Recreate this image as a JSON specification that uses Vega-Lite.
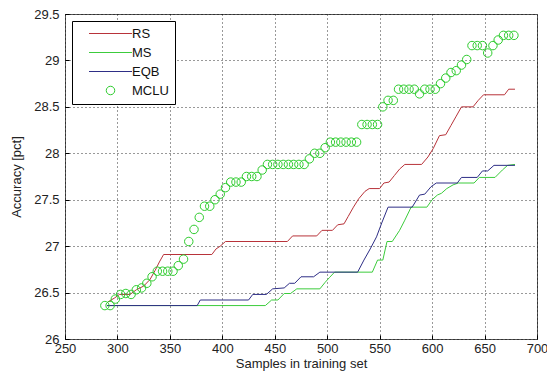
{
  "$schema": "https://vega.github.io/schema/vega-lite/v6.json",
  "width": 472,
  "height": 325,
  "autosize": {"type": "none"},
  "padding": {"left": 65, "top": 14, "right": 10, "bottom": 37},
  "background": "white",
  "config": {
    "font": "Liberation Sans",
    "view": {"stroke": "#555555", "strokeWidth": 1},
    "axis": {
      "domain": false,
      "grid": true,
      "gridColor": "#000000",
      "gridDash": [1, 3],
      "gridOpacity": 0.8,
      "gridWidth": 1,
      "ticks": true,
      "tickSize": -4,
      "tickColor": "#000000",
      "labelFont": "Liberation Sans",
      "labelFontSize": 13,
      "labelColor": "#222222",
      "titleFont": "Liberation Sans",
      "titleFontSize": 13,
      "titleFontWeight": "normal",
      "titleColor": "#222222"
    },
    "legend": {
      "labelFont": "Liberation Sans",
      "labelFontSize": 13,
      "labelColor": "#111111"
    }
  },
  "data": {
    "values": [
      {"s": "RS", "x": 291, "y": 26.4},
      {"s": "RS", "x": 297, "y": 26.44},
      {"s": "RS", "x": 302, "y": 26.48},
      {"s": "RS", "x": 312, "y": 26.48},
      {"s": "RS", "x": 318, "y": 26.53},
      {"s": "RS", "x": 325, "y": 26.57},
      {"s": "RS", "x": 331, "y": 26.64},
      {"s": "RS", "x": 336, "y": 26.74},
      {"s": "RS", "x": 340, "y": 26.83},
      {"s": "RS", "x": 344, "y": 26.91},
      {"s": "RS", "x": 390, "y": 26.91},
      {"s": "RS", "x": 394, "y": 26.97},
      {"s": "RS", "x": 398, "y": 27.0},
      {"s": "RS", "x": 403, "y": 27.05},
      {"s": "RS", "x": 462, "y": 27.05},
      {"s": "RS", "x": 467, "y": 27.11},
      {"s": "RS", "x": 490, "y": 27.11},
      {"s": "RS", "x": 495, "y": 27.17},
      {"s": "RS", "x": 505, "y": 27.17},
      {"s": "RS", "x": 510, "y": 27.23},
      {"s": "RS", "x": 516, "y": 27.24},
      {"s": "RS", "x": 520, "y": 27.32},
      {"s": "RS", "x": 525, "y": 27.42},
      {"s": "RS", "x": 530, "y": 27.51},
      {"s": "RS", "x": 536, "y": 27.59},
      {"s": "RS", "x": 540, "y": 27.62},
      {"s": "RS", "x": 550, "y": 27.62},
      {"s": "RS", "x": 554, "y": 27.68},
      {"s": "RS", "x": 559, "y": 27.69},
      {"s": "RS", "x": 564, "y": 27.76},
      {"s": "RS", "x": 569, "y": 27.83},
      {"s": "RS", "x": 574, "y": 27.88},
      {"s": "RS", "x": 590, "y": 27.88},
      {"s": "RS", "x": 596, "y": 27.96},
      {"s": "RS", "x": 601, "y": 28.05},
      {"s": "RS", "x": 607, "y": 28.19},
      {"s": "RS", "x": 613, "y": 28.2},
      {"s": "RS", "x": 618, "y": 28.3},
      {"s": "RS", "x": 623, "y": 28.4},
      {"s": "RS", "x": 628, "y": 28.5},
      {"s": "RS", "x": 639, "y": 28.5},
      {"s": "RS", "x": 644, "y": 28.57},
      {"s": "RS", "x": 649, "y": 28.63},
      {"s": "RS", "x": 669, "y": 28.63},
      {"s": "RS", "x": 673, "y": 28.69},
      {"s": "RS", "x": 679, "y": 28.69},

      {"s": "MS", "x": 290, "y": 26.36},
      {"s": "MS", "x": 441, "y": 26.36},
      {"s": "MS", "x": 447, "y": 26.42},
      {"s": "MS", "x": 453, "y": 26.42},
      {"s": "MS", "x": 459, "y": 26.49},
      {"s": "MS", "x": 465, "y": 26.49},
      {"s": "MS", "x": 471, "y": 26.54},
      {"s": "MS", "x": 493, "y": 26.54},
      {"s": "MS", "x": 498, "y": 26.61},
      {"s": "MS", "x": 502, "y": 26.66},
      {"s": "MS", "x": 507, "y": 26.72},
      {"s": "MS", "x": 543, "y": 26.72},
      {"s": "MS", "x": 548, "y": 26.85},
      {"s": "MS", "x": 553, "y": 26.85},
      {"s": "MS", "x": 557, "y": 27.05},
      {"s": "MS", "x": 562, "y": 27.05},
      {"s": "MS", "x": 569, "y": 27.17},
      {"s": "MS", "x": 574, "y": 27.28},
      {"s": "MS", "x": 580, "y": 27.42},
      {"s": "MS", "x": 595, "y": 27.42},
      {"s": "MS", "x": 600, "y": 27.5},
      {"s": "MS", "x": 605, "y": 27.55},
      {"s": "MS", "x": 609, "y": 27.57},
      {"s": "MS", "x": 614, "y": 27.62},
      {"s": "MS", "x": 620, "y": 27.66},
      {"s": "MS", "x": 625, "y": 27.68},
      {"s": "MS", "x": 640, "y": 27.68},
      {"s": "MS", "x": 645, "y": 27.74},
      {"s": "MS", "x": 660, "y": 27.74},
      {"s": "MS", "x": 667, "y": 27.82},
      {"s": "MS", "x": 672, "y": 27.87},
      {"s": "MS", "x": 679, "y": 27.88},

      {"s": "EQB", "x": 290, "y": 26.36},
      {"s": "EQB", "x": 376, "y": 26.36},
      {"s": "EQB", "x": 379, "y": 26.42},
      {"s": "EQB", "x": 425, "y": 26.42},
      {"s": "EQB", "x": 429, "y": 26.48},
      {"s": "EQB", "x": 442, "y": 26.48},
      {"s": "EQB", "x": 448, "y": 26.54},
      {"s": "EQB", "x": 459, "y": 26.55},
      {"s": "EQB", "x": 464, "y": 26.6},
      {"s": "EQB", "x": 469, "y": 26.6},
      {"s": "EQB", "x": 475, "y": 26.67},
      {"s": "EQB", "x": 487, "y": 26.67},
      {"s": "EQB", "x": 493, "y": 26.72},
      {"s": "EQB", "x": 529, "y": 26.72},
      {"s": "EQB", "x": 535, "y": 26.85},
      {"s": "EQB", "x": 541, "y": 26.97},
      {"s": "EQB", "x": 547, "y": 27.1},
      {"s": "EQB", "x": 552, "y": 27.25},
      {"s": "EQB", "x": 558, "y": 27.42},
      {"s": "EQB", "x": 581, "y": 27.42},
      {"s": "EQB", "x": 588, "y": 27.55},
      {"s": "EQB", "x": 593, "y": 27.56},
      {"s": "EQB", "x": 599, "y": 27.64},
      {"s": "EQB", "x": 604, "y": 27.68},
      {"s": "EQB", "x": 624, "y": 27.68},
      {"s": "EQB", "x": 628, "y": 27.74},
      {"s": "EQB", "x": 643, "y": 27.74},
      {"s": "EQB", "x": 648, "y": 27.81},
      {"s": "EQB", "x": 653, "y": 27.81},
      {"s": "EQB", "x": 659, "y": 27.87},
      {"s": "EQB", "x": 679, "y": 27.87},

      {"s": "MCLU", "x": 288, "y": 26.36},
      {"s": "MCLU", "x": 293, "y": 26.36},
      {"s": "MCLU", "x": 298, "y": 26.43},
      {"s": "MCLU", "x": 303, "y": 26.48},
      {"s": "MCLU", "x": 308, "y": 26.49},
      {"s": "MCLU", "x": 313, "y": 26.48},
      {"s": "MCLU", "x": 318, "y": 26.53},
      {"s": "MCLU", "x": 323, "y": 26.55},
      {"s": "MCLU", "x": 328, "y": 26.6},
      {"s": "MCLU", "x": 333, "y": 26.67},
      {"s": "MCLU", "x": 338, "y": 26.73},
      {"s": "MCLU", "x": 343, "y": 26.73},
      {"s": "MCLU", "x": 348, "y": 26.73},
      {"s": "MCLU", "x": 353, "y": 26.73},
      {"s": "MCLU", "x": 358, "y": 26.79},
      {"s": "MCLU", "x": 363, "y": 26.86},
      {"s": "MCLU", "x": 368, "y": 27.05},
      {"s": "MCLU", "x": 373, "y": 27.18},
      {"s": "MCLU", "x": 378, "y": 27.31},
      {"s": "MCLU", "x": 383, "y": 27.43},
      {"s": "MCLU", "x": 388, "y": 27.43},
      {"s": "MCLU", "x": 393, "y": 27.5},
      {"s": "MCLU", "x": 398, "y": 27.56},
      {"s": "MCLU", "x": 403, "y": 27.63},
      {"s": "MCLU", "x": 408, "y": 27.69},
      {"s": "MCLU", "x": 413, "y": 27.69},
      {"s": "MCLU", "x": 418, "y": 27.69},
      {"s": "MCLU", "x": 423, "y": 27.75},
      {"s": "MCLU", "x": 428, "y": 27.75},
      {"s": "MCLU", "x": 433, "y": 27.75},
      {"s": "MCLU", "x": 438, "y": 27.82},
      {"s": "MCLU", "x": 443, "y": 27.88},
      {"s": "MCLU", "x": 448, "y": 27.88},
      {"s": "MCLU", "x": 453, "y": 27.88},
      {"s": "MCLU", "x": 458, "y": 27.88},
      {"s": "MCLU", "x": 463, "y": 27.88},
      {"s": "MCLU", "x": 468, "y": 27.88},
      {"s": "MCLU", "x": 473, "y": 27.88},
      {"s": "MCLU", "x": 478, "y": 27.88},
      {"s": "MCLU", "x": 483, "y": 27.94},
      {"s": "MCLU", "x": 488, "y": 28.0},
      {"s": "MCLU", "x": 493, "y": 28.0},
      {"s": "MCLU", "x": 498, "y": 28.06},
      {"s": "MCLU", "x": 503, "y": 28.12},
      {"s": "MCLU", "x": 508, "y": 28.12},
      {"s": "MCLU", "x": 513, "y": 28.12},
      {"s": "MCLU", "x": 518, "y": 28.12},
      {"s": "MCLU", "x": 523, "y": 28.12},
      {"s": "MCLU", "x": 528, "y": 28.12},
      {"s": "MCLU", "x": 533, "y": 28.31},
      {"s": "MCLU", "x": 538, "y": 28.31},
      {"s": "MCLU", "x": 543, "y": 28.31},
      {"s": "MCLU", "x": 548, "y": 28.31},
      {"s": "MCLU", "x": 553, "y": 28.5},
      {"s": "MCLU", "x": 558, "y": 28.57},
      {"s": "MCLU", "x": 563, "y": 28.57},
      {"s": "MCLU", "x": 568, "y": 28.69},
      {"s": "MCLU", "x": 573, "y": 28.69},
      {"s": "MCLU", "x": 578, "y": 28.69},
      {"s": "MCLU", "x": 583, "y": 28.69},
      {"s": "MCLU", "x": 588, "y": 28.64},
      {"s": "MCLU", "x": 593, "y": 28.69},
      {"s": "MCLU", "x": 598, "y": 28.69},
      {"s": "MCLU", "x": 603, "y": 28.69},
      {"s": "MCLU", "x": 608, "y": 28.75},
      {"s": "MCLU", "x": 613, "y": 28.81},
      {"s": "MCLU", "x": 618, "y": 28.87},
      {"s": "MCLU", "x": 623, "y": 28.89},
      {"s": "MCLU", "x": 628, "y": 28.95},
      {"s": "MCLU", "x": 633, "y": 29.01},
      {"s": "MCLU", "x": 638, "y": 29.16},
      {"s": "MCLU", "x": 643, "y": 29.16},
      {"s": "MCLU", "x": 648, "y": 29.16},
      {"s": "MCLU", "x": 653, "y": 29.08},
      {"s": "MCLU", "x": 658, "y": 29.16},
      {"s": "MCLU", "x": 663, "y": 29.22},
      {"s": "MCLU", "x": 668, "y": 29.27},
      {"s": "MCLU", "x": 673, "y": 29.27},
      {"s": "MCLU", "x": 678, "y": 29.27}
    ]
  },
  "encoding": {
    "x": {
      "field": "x",
      "type": "quantitative",
      "scale": {"domain": [250, 700], "nice": false, "zero": false},
      "axis": {
        "title": "Samples in training set",
        "values": [250, 300, 350, 400, 450, 500, 550, 600, 650, 700],
        "labelPadding": 7,
        "titlePadding": 2,
        "labelFlush": false,
        "labelOverlap": false
      }
    },
    "y": {
      "field": "y",
      "type": "quantitative",
      "scale": {"domain": [26, 29.5], "nice": false, "zero": false},
      "axis": {
        "title": "Accuracy [pct]",
        "values": [26, 26.5, 27, 27.5, 28, 28.5, 29, 29.5],
        "format": "~g",
        "labelPadding": 10,
        "titlePadding": 10,
        "labelFlush": false,
        "labelOverlap": false
      }
    },
    "color": {
      "field": "s",
      "type": "nominal",
      "sort": ["RS", "MS", "EQB", "MCLU"],
      "scale": {
        "domain": ["RS", "MS", "EQB", "MCLU"],
        "range": ["#b8333a", "#3ccc3c", "#2e2e86", "#2ecc2e"]
      },
      "legend": {
        "title": null,
        "orient": "top-left",
        "offset": 7,
        "fillColor": "white",
        "strokeColor": "#000000",
        "padding": 6,
        "symbolType": "stroke",
        "symbolSize": 100,
        "symbolStrokeWidth": 1,
        "symbolOffset": 26,
        "labelOffset": 15,
        "labelFontSize": 13,
        "rowPadding": 5,
        "encode": {
          "symbols": {
            "update": {
              "shape": {"signal": "datum.value === 'MCLU' ? 'circle' : 'M-4.3,0H4.3'"},
              "size": {"signal": "datum.value === 'MCLU' ? 72 : 100"},
              "fill": {"value": "transparent"},
              "stroke": {"signal": "datum.value === 'RS' ? '#b8333a' : datum.value === 'MS' ? '#3ccc3c' : datum.value === 'EQB' ? '#2e2e86' : '#2ecc2e'"},
              "strokeWidth": {"value": 1}
            }
          }
        }
      }
    }
  },
  "layer": [
    {
      "transform": [{"filter": "datum.s === 'RS'"}],
      "mark": {"type": "line", "strokeWidth": 1}
    },
    {
      "transform": [{"filter": "datum.s === 'MS'"}],
      "mark": {"type": "line", "strokeWidth": 1}
    },
    {
      "transform": [{"filter": "datum.s === 'EQB'"}],
      "mark": {"type": "line", "strokeWidth": 1}
    },
    {
      "transform": [{"filter": "datum.s === 'MCLU'"}],
      "mark": {"type": "point", "shape": "circle", "filled": false, "size": 72, "strokeWidth": 1, "opacity": 1}
    }
  ]
}
